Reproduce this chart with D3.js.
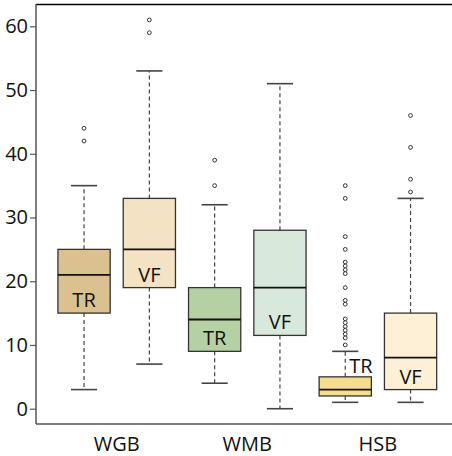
<!DOCTYPE html>
<html><head><meta charset="utf-8">
<script src="https://cdn.jsdelivr.net/npm/d3@7"></script>
<style>body{margin:0;background:#fff}svg{display:block}text{font-family:"Open Sans",sans-serif}</style>
</head><body><svg id="c" width="452" height="456"></svg>
<script>
const categories = ["WGB", "WMB", "HSB"];
const groups = ["TR", "VF"];
// [min whisker, Q1, median, Q3, max whisker] per category, per group
const statsTR = [[3, 15, 21, 25, 35], [4, 9, 14, 19, 32], [1, 2, 3, 5, 9]];
const statsVF = [[7, 19, 25, 33, 53], [0, 11.5, 19, 28, 51], [1, 3, 8, 15, 33]];
const outliersTR = [[42, 44], [35, 39], [35, 33, 27, 25, 23, 22.4, 21.8, 21.2, 19, 17, 16.4, 14.1, 13.5, 12.9, 12.3, 11.7, 11.1, 10]];
const outliersVF = [[59, 61], [], [34, 36, 41, 46]];
const colorsTR = ["#dcc190", "#b5d1a4", "#f5dd90"];
const colorsVF = ["#f3e2c4", "#d8e8da", "#fdf0d6"];
const yTicks = [0, 10, 20, 30, 40, 50, 60];

const svg = d3.select("#c");
const mLeft = 36, mTop = 4, mBottom = 424, mRight = 452;
const x = d3.scaleBand().domain(categories).range([51.4, 443.2]).padding(0);
const xi = d3.scalePoint().domain(groups).range([0, x.bandwidth()]).padding(0.5);
const bw = x.bandwidth() * 0.4;
const y = d3.scaleLinear().domain([-2.4, 63.5]).range([mBottom, mTop]);
const fs = 20;

svg.append("line").attr("x1", mLeft).attr("x2", mRight).attr("y1", mTop + 0.5).attr("y2", mTop + 0.5).attr("stroke", "#000").attr("stroke-width", 1.5);
svg.append("line").attr("x1", mLeft).attr("x2", mRight).attr("y1", mBottom).attr("y2", mBottom).attr("stroke", "#555").attr("stroke-width", 1.5);

const yAxis = svg.append("g").attr("transform", `translate(${mLeft},0)`)
  .call(d3.axisLeft(y).tickValues(yTicks).tickSize(6).tickPadding(2).tickFormat(d3.format("d")));
yAxis.select(".domain").attr("stroke", "#555").attr("stroke-width", 1.5).attr("d", `M0,${mTop}V${mBottom}`);
yAxis.selectAll(".tick line").attr("stroke", "#555").attr("stroke-width", 1.2);
yAxis.selectAll(".tick text").attr("font-size", fs).attr("fill", "#111").attr("font-family", "Open Sans");

svg.append("g").selectAll("text").data(categories).join("text")
  .attr("x", d => x(d) + x.bandwidth() / 2).attr("y", 451)
  .attr("text-anchor", "middle").attr("font-size", fs).attr("fill", "#111").text(d => d);

const data = [];
categories.forEach((c, i) => {
  data.push({cat: c, g: "TR", s: statsTR[i], out: outliersTR[i], color: colorsTR[i]});
  data.push({cat: c, g: "VF", s: statsVF[i], out: outliersVF[i], color: colorsVF[i]});
});

data.forEach(d => {
  const cx = x(d.cat) + xi(d.g);
  const g = svg.append("g");
  const [lo, q1, med, q3, hi] = d.s;
  g.append("line").attr("x1", cx).attr("x2", cx).attr("y1", y(q3)).attr("y2", y(hi))
    .attr("stroke", "#444").attr("stroke-width", 1.2).attr("stroke-dasharray", "4,3");
  g.append("line").attr("x1", cx).attr("x2", cx).attr("y1", y(q1)).attr("y2", y(lo))
    .attr("stroke", "#444").attr("stroke-width", 1.2).attr("stroke-dasharray", "4,3");
  [lo, hi].forEach(v => g.append("line").attr("x1", cx - bw / 4).attr("x2", cx + bw / 4)
    .attr("y1", y(v)).attr("y2", y(v)).attr("stroke", "#444").attr("stroke-width", 1.6));
  g.append("rect").attr("x", cx - bw / 2).attr("width", bw).attr("y", y(q3)).attr("height", y(q1) - y(q3))
    .attr("fill", d.color).attr("stroke", "#333").attr("stroke-width", 1.3);
  g.append("line").attr("x1", cx - bw / 2).attr("x2", cx + bw / 2).attr("y1", y(med)).attr("y2", y(med))
    .attr("stroke", "#111").attr("stroke-width", 1.8);
  g.selectAll("circle").data(d.out).join("circle")
    .attr("cx", cx).attr("cy", v => y(v)).attr("r", 1.9)
    .attr("fill", "#fff").attr("stroke", "#333").attr("stroke-width", 1);
  const special = d.cat === "HSB" && d.g === "TR";
  g.append("text")
    .attr("x", special ? cx + 4 : cx)
    .attr("y", special ? y(q3) - 4 : y(q1) - 6)
    .attr("text-anchor", special ? "start" : "middle")
    .attr("font-size", fs).attr("fill", "#111").text(d.g);
});
</script></body></html>
